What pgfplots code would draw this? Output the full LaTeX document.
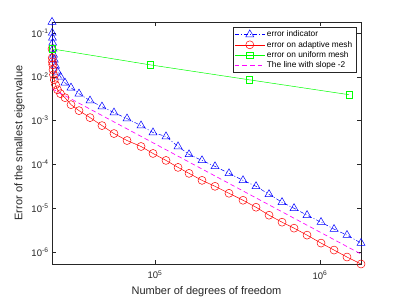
\documentclass[border=0pt]{standalone}
\usepackage{pgfplots}
\pgfplotsset{compat=1.18}
\usepackage{fontspec}
\setmainfont{Liberation Sans}
\definecolor{axgray}{rgb}{0.15,0.15,0.15}
\definecolor{mymag}{rgb}{1,0,1}
\begin{document}
\begin{tikzpicture}
\path (0,0) rectangle (398pt,299pt);
\begin{axis}[
  at={(52pt,35pt)}, anchor=south west,
  scale only axis, width=309pt, height=242pt,
  xmode=log, ymode=log, log basis x=10, log basis y=10,
  xmin=23760, xmax=1772000, ymin=5.337e-7, ymax=0.1778,
  xtick={1e5,1e6}, ytick={1e-6,1e-5,1e-4,1e-3,1e-2,1e-1},
  xticklabel={10\textsuperscript{\pgfmathparse{int(round(\tick))}\pgfmathresult}},
  yticklabel={10\textsuperscript{\pgfmathparse{int(round(\tick))}\pgfmathresult}},
  tick label style={font=\fontsize{9.5}{11}\selectfont, text=axgray},
  xticklabel style={yshift=-3pt},
  axis line style={axgray, line width=0.5pt},
  tick style={axgray, line width=0.5pt},
  major tick length=4pt, minor tick length=2.2pt,
  tick align=inside,
  xlabel={Number of degrees of freedom},
  ylabel={Error of the smallest eigenvalue},
  label style={font=\fontsize{11}{13}\selectfont, text=axgray},
  xlabel style={yshift=-1pt},
  clip=false,
  legend cell align=left,
  legend style={at={(1,1)}, anchor=north east, xshift=-5pt, yshift=-5pt,
    font=\fontsize{8.3}{9.5}\selectfont, draw=axgray, line width=0.5pt,
    inner sep=1.5pt, row sep=-1.2pt},
  legend image code/.code={\draw[mark repeat=2,mark phase=2,#1] plot coordinates {(0cm,0cm) (0.52cm,0cm) (1.04cm,0cm)};},
]
\addplot[blue, dash pattern=on 4pt off 2pt on 1pt off 2pt, line width=0.5pt, mark=triangle, mark size=4.6pt, mark options={solid}] coordinates {
(23760,0.1778) (23830,0.1) (23890,0.07697) (23990,0.05925) (24090,0.04329)
(24260,0.03162) (24530,0.02434) (24950,0.01778) (25650,0.01299) (26750,0.01)
(28480,0.007305) (30970,0.005623) (34630,0.004108) (40380,0.002848) (47720,0.002080)
(56420,0.001520) (67680,0.001110) (82290,7.697e-4) (97250,5.337e-4) (116600,4.329e-4)
(137900,2.565e-4) (160800,1.688e-4) (192700,1.233e-4) (231000,9.006e-5) (280800,6.245e-5)
(341500,4.329e-5) (409400,3.162e-5) (490900,2.080e-5) (588500,1.369e-5) (695800,1.0e-5)
(834100,6.934e-6) (1014000,4.806e-6) (1216000,3.333e-6) (1457000,2.434e-6) (1772000,1.602e-6)
};
\addlegendentry{error indicator}
\addplot[red, solid, line width=0.5pt, mark=o, mark size=4pt] coordinates {
(23760,0.04329) (23830,0.02703) (23890,0.02193) (23990,0.01874) (24090,0.01442)
(24260,0.01110) (24530,0.008547) (24950,0.006579) (25650,0.005064) (26750,0.004108)
(28480,0.003333) (30970,0.002310) (34630,0.001688) (40380,0.001170) (47720,7.697e-4)
(56420,5.064e-4) (67680,3.511e-4) (82290,2.565e-4) (97250,1.778e-4) (116600,1.233e-4)
(137900,8.547e-5) (160800,6.245e-5) (192700,4.329e-5) (231000,3.162e-5) (280800,2.193e-5)
(341500,1.520e-5) (409400,1.054e-5) (490900,6.934e-6) (588500,4.806e-6) (695800,3.511e-6)
(834100,2.434e-6) (1014000,1.602e-6) (1216000,1.110e-6) (1457000,7.697e-7) (1772000,5.337e-7)
};
\addlegendentry{error on adaptive mesh}
\addplot[green, solid, line width=0.5pt, mark=square, mark size=3.2pt] coordinates {
(23760,0.04329) (93260,0.01874) (371300,0.008547) (1499000,0.0039)
};
\addlegendentry{error on uniform mesh}
\addplot[mymag, dash pattern=on 4.5pt off 3pt, line width=0.65pt] coordinates {
(23760,5.33e-3) (1772000,9.0e-7)
};
\addlegendentry{The line with slope -2}
\end{axis}
\end{tikzpicture}
\end{document}
